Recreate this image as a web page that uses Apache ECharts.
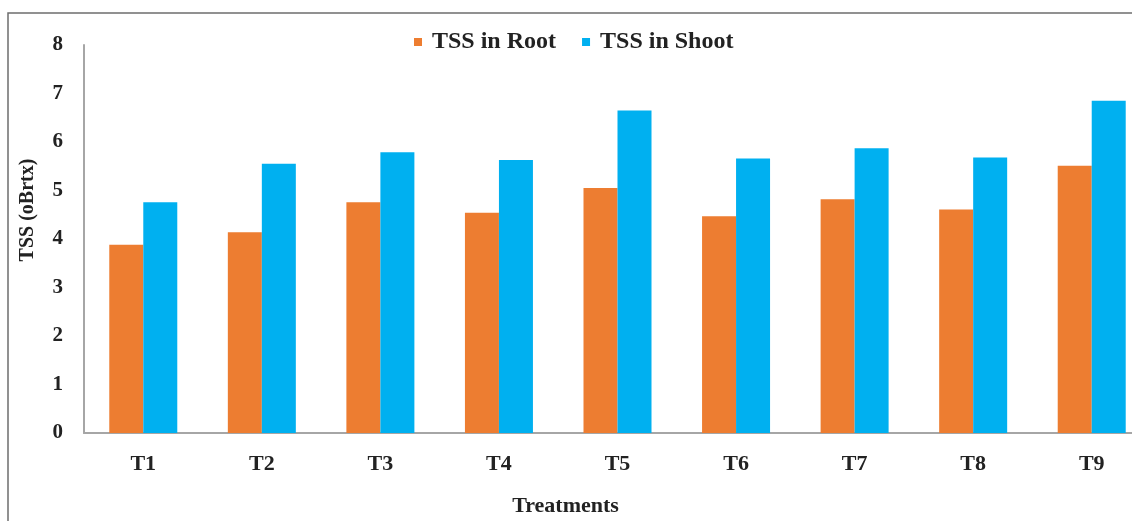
<!DOCTYPE html>
<html>
<head>
<meta charset="utf-8">
<script src="https://cdn.jsdelivr.net/npm/echarts@6/dist/echarts.min.js"></script>
<style>
  html, body { margin: 0; padding: 0; background: #fff; }
  #chart { width: 1132px; height: 521px; }
</style>
</head>
<body>
<div id="chart"></div>
<script>
// 处理类别与数值
const treatments = ['T1', 'T2', 'T3', 'T4', 'T5', 'T6', 'T7', 'T8', 'T9'];
const tssRoot = [3.88, 4.14, 4.76, 4.54, 5.05, 4.47, 4.82, 4.61, 5.51];
const tssShoot = [4.76, 5.55, 5.79, 5.63, 6.65, 5.66, 5.87, 5.68, 6.85];
const yTicks = [0, 1, 2, 3, 4, 5, 6, 7, 8];

const font = 'Liberation Serif, Times New Roman, serif';
const txt = { fontFamily: font, fontWeight: 'bold', color: '#222' };

const chart = echarts.init(document.getElementById('chart'));

const option = {
  animation: false,
  backgroundColor: '#fff',
  graphic: [{
    type: 'rect',
    shape: { x: 8, y: 13, width: 1140, height: 530 },
    style: { fill: 'none', stroke: '#6e6e6e', lineWidth: 1.5 },
    silent: true
  }],
  legend: {
    left: 409,
    top: 25,
    itemWidth: 8,
    itemHeight: 8,
    itemGap: 26,
    icon: 'rect',
    textStyle: { ...txt, fontSize: 24, padding: [0, 0, 0, 5] },
    data: ['TSS in Root', 'TSS in Shoot']
  },
  grid: {
    left: 84,
    top: 45,
    width: 1067,
    height: 388,
    outerBoundsMode: 'none',
    containLabel: false
  },
  xAxis: {
    type: 'category',
    data: treatments,
    axisLine: { lineStyle: { color: '#a6a6a6', width: 2 } },
    axisTick: { show: false },
    axisLabel: { ...txt, margin: 20, fontSize: 22 },
    name: 'Treatments',
    nameLocation: 'middle',
    nameGap: 62,
    nameTextStyle: { ...txt, fontSize: 22, padding: [0, 104, 0, 0] }
  },
  yAxis: {
    type: 'value',
    min: yTicks[0],
    max: yTicks[yTicks.length - 1],
    interval: 1,
    splitLine: { show: false },
    axisLine: { show: true, lineStyle: { color: '#a6a6a6', width: 2 } },
    axisTick: { show: false },
    axisLabel: { ...txt, margin: 21, fontSize: 21 },
    name: 'TSS (oBrtx)',
    nameLocation: 'middle',
    nameGap: 46,
    nameTextStyle: { ...txt, fontSize: 20, padding: [0, 0, 0, 58] }
  },
  series: [
    {
      name: 'TSS in Root',
      type: 'bar',
      data: tssRoot,
      barWidth: 34,
      barGap: '0%',
      itemStyle: { color: '#ED7D31' }
    },
    {
      name: 'TSS in Shoot',
      type: 'bar',
      data: tssShoot,
      barWidth: 34,
      barGap: '0%',
      itemStyle: { color: '#00B0F0' }
    }
  ]
};

chart.setOption(option);
</script>
</body>
</html>
